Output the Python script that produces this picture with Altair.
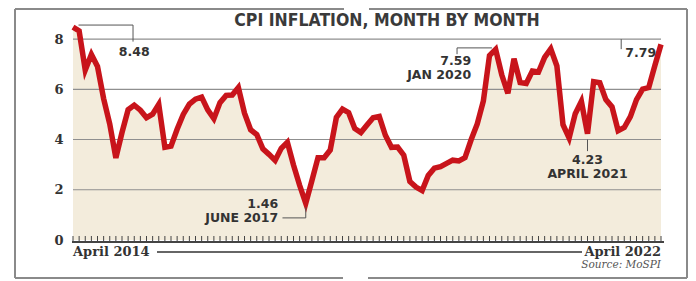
import altair as alt
import pandas as pd

# CPI inflation (%), monthly, April 2014 .. April 2022
cpi = [8.48, 8.33, 6.77, 7.39, 6.91, 5.63, 4.62, 3.27, 4.28,
       5.19, 5.37, 5.17, 4.87, 5.01, 5.40, 3.69, 3.74, 4.41, 5.00, 5.41, 5.61,
       5.69, 5.18, 4.83, 5.47, 5.76, 5.77, 6.07, 5.05, 4.39, 4.20, 3.63, 3.41,
       3.17, 3.65, 3.89, 2.99, 2.18, 1.46, 2.36, 3.28, 3.28, 3.58, 4.88, 5.21,
       5.07, 4.44, 4.28, 4.58, 4.87, 4.92, 4.17, 3.69, 3.70, 3.38, 2.33, 2.11,
       1.97, 2.57, 2.86, 2.92, 3.05, 3.18, 3.15, 3.28, 3.99, 4.62, 5.54, 7.35,
       7.59, 6.58, 5.84, 7.22, 6.27, 6.23, 6.73, 6.69, 7.27, 7.61, 6.93, 4.59,
       4.06, 5.03, 5.52, 4.23, 6.30, 6.26, 5.59, 5.30, 4.35, 4.48, 4.91, 5.59,
       6.01, 6.07, 6.95, 7.79]
months = pd.date_range("2014-04-01", periods=len(cpi), freq="MS").strftime("%b %Y").tolist()
grid_values = [2, 4, 6, 8]
y_ticks = [0, 2, 4, 6, 8]

title_text = "CPI INFLATION, MONTH BY MONTH"
first_label = "April 2014"
last_label = "April 2022"
source_text = "Source: MoSPI"

# annotations (month index, value position, text)
ann_center = pd.DataFrame({
    "m": [10, 84, 84, 92.7],
    "v": [7.47, 3.19, 2.63, 7.45],
    "t": ["8.48", "4.23", "APRIL 2021", "7.79"],
})
ann_right = pd.DataFrame({
    "m": [65.0, 65.0, 33.5, 33.5],
    "v": [7.13, 6.59, 1.43, 0.88],
    "t": ["7.59", "JAN 2020", "1.46", "JUNE 2017"],
})
connectors = pd.DataFrame({
    "m":  [0.9, 9.8, 62.7, 62.7, 38.0, 34.2, 84.0, 89.5],
    "m2": [9.8, 9.8, 68.4, 62.7, 38.0, 38.0, 84.0, 89.5],
    "v":  [8.56, 8.56, 7.65, 7.65, 1.30, 0.88, 4.00, 8.00],
    "v2": [8.56, 7.90, 7.65, 7.40, 0.88, 0.88, 3.54, 7.60],
})

df = pd.DataFrame({"m": list(range(len(cpi))), "v": cpi, "month": months})

W, H = 588, 226
XS = alt.Scale(domain=[0, 96], nice=False, zero=False)
YS = alt.Scale(domain=[0, 9], nice=False)

RED = "#c8141b"
BEIGE = "#f3ecdc"
GRID = "#8f8f8f"
FRAME = "#8a8a8a"
TXT = "#333333"

base = alt.Chart(df)

area = base.mark_area(color=BEIGE).encode(
    x=alt.X("m:Q", scale=XS, axis=None),
    y=alt.Y("v:Q", scale=YS, title=None,
            axis=alt.Axis(values=y_ticks, grid=False, domain=False, ticks=False,
                          labelFont="DejaVu Serif", labelFontWeight="bold",
                          labelFontSize=13, labelColor=TXT, labelPadding=10)),
)

grid = alt.Chart(pd.DataFrame({"g": grid_values})).mark_rule(
    color=GRID, strokeWidth=1.1).encode(y=alt.Y("g:Q", scale=YS))

line = base.mark_line(color=RED, strokeWidth=5.5).encode(
    x=alt.X("m:Q", scale=XS), y=alt.Y("v:Q", scale=YS))

comb = base.mark_rule(color="#444444", strokeWidth=1).encode(
    x=alt.X("m:Q", scale=XS), y=alt.value(222), y2=alt.value(228))
comb_base = base.mark_rule(color="#444444", strokeWidth=1).encode(
    x=alt.value(-1), x2=alt.value(591), y=alt.value(228))

conn = alt.Chart(connectors).mark_rule(color="#555555", strokeWidth=1).encode(
    x=alt.X("m:Q", scale=XS), x2="m2:Q",
    y=alt.Y("v:Q", scale=YS), y2="v2:Q")

ann_font = "DejaVu Sans"
t_center = alt.Chart(ann_center).mark_text(
    align="center", baseline="middle", font=ann_font, fontWeight="bold",
    fontSize=12.5, color=TXT).encode(
    x=alt.X("m:Q", scale=XS), y=alt.Y("v:Q", scale=YS), text="t:N")
t_right = alt.Chart(ann_right).mark_text(
    align="right", baseline="middle", font=ann_font, fontWeight="bold",
    fontSize=12.5, color=TXT).encode(
    x=alt.X("m:Q", scale=XS), y=alt.Y("v:Q", scale=YS), text="t:N")

ends = pd.DataFrame({"m": [0, 96], "t": [first_label, last_label]})
lab_first = alt.Chart(ends.iloc[[0]]).mark_text(
    align="left", baseline="middle", font="DejaVu Serif", fontWeight="bold",
    fontSize=13, color=TXT).encode(
    x=alt.X("m:Q", scale=XS), y=alt.value(238), text="t:N")
lab_last = alt.Chart(ends.iloc[[1]]).mark_text(
    align="right", baseline="middle", font="DejaVu Serif", fontWeight="bold",
    fontSize=13, color=TXT).encode(
    x=alt.X("m:Q", scale=XS), y=alt.value(238), text="t:N")
span_line = base.mark_rule(color="#666666", strokeWidth=1).encode(
    x=alt.value(84), x2=alt.value(509), y=alt.value(238))
source = alt.Chart(pd.DataFrame({"m": [96], "t": [source_text]})).mark_text(
    align="right", baseline="middle", font="DejaVu Serif", fontStyle="italic",
    fontSize=10.5, color="#555555").encode(
    x=alt.X("m:Q", scale=XS), y=alt.value(251), text="t:N")

title = alt.Chart(pd.DataFrame({"t": [title_text]})).mark_text(
    align="center", baseline="middle",
    font="Liberation Sans Narrow, DejaVu Sans Condensed, sans-serif",
    fontWeight="bold", fontSize=17.5, color="#3a3a3a").encode(
    x=alt.value(314), y=alt.value(7), text="t:N")


def seg(x1, x2, y1, y2):
    return base.mark_rule(color=FRAME, strokeWidth=1.5).encode(
        x=alt.value(x1), x2=alt.value(x2), y=alt.value(y1), y2=alt.value(y2))


frame = [
    seg(-58, -58, -5, 264),
    seg(614, 614, -5, 264),
    seg(-58, 271, -5, -5),
    seg(296, 614, -5, -5),
    seg(-58, 270, 264, 264),
    seg(295, 614, 264, 264),
]

chart = alt.layer(
    area, grid, comb, comb_base, line, conn, t_center, t_right,
    lab_first, lab_last, span_line, source, title, *frame,
).properties(
    width=W, height=H,
    padding={"left": 65, "top": 6, "right": 27, "bottom": 39},
    autosize=alt.AutoSizeParams(type="none"),
).configure_view(stroke=None)

chart.save("out.html", embed_options={"renderer": "svg", "actions": False})
